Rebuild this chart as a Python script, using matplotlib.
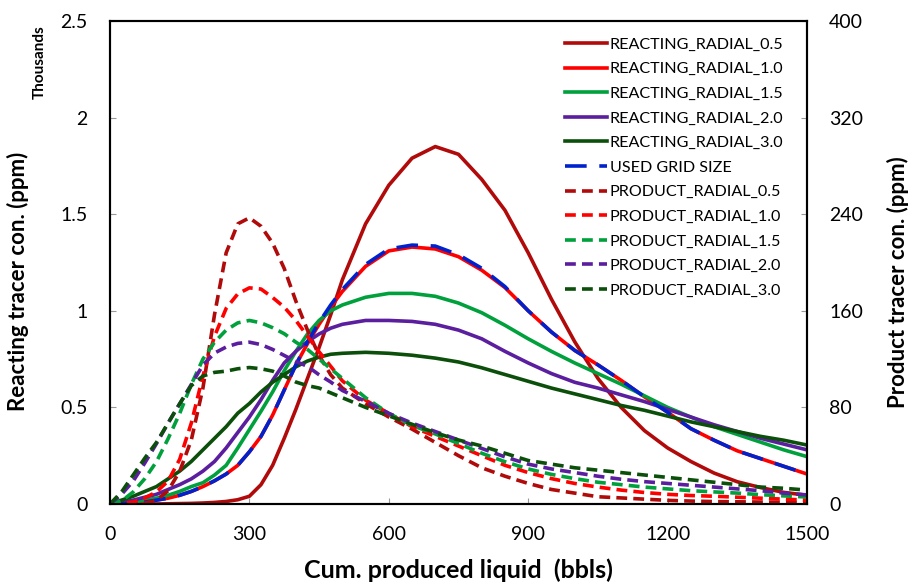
import matplotlib
matplotlib.use("Agg")
import matplotlib.pyplot as plt

plt.rcParams['font.family'] = ['Lato', 'DejaVu Sans']

# cumulative produced liquid (bbls)
cum_liquid = [0, 25, 50, 75, 100, 125, 150, 175, 200, 225, 250, 275, 300, 325, 350, 375, 400,
              425, 450, 475, 500, 550, 600, 650, 700, 750, 800, 850, 900, 950, 1000,
              1050, 1100, 1150, 1200, 1250, 1300, 1350, 1400, 1450, 1500]

# reacting tracer (thousands ppm, left axis)
reacting_05 = [0, 0, 0, 0, 0, 0.001, 0.002, 0.003, 0.005, 0.008, 0.013, 0.022, 0.04, 0.1, 0.2, 0.34, 0.49,
               0.65, 0.81, 0.98, 1.16, 1.45, 1.65, 1.79, 1.85, 1.81, 1.68, 1.52, 1.30, 1.06, 0.84,
               0.65, 0.50, 0.38, 0.29, 0.22, 0.16, 0.115, 0.085, 0.06, 0.045]
reacting_10 = [0, 0.001, 0.003, 0.01, 0.02, 0.03, 0.045, 0.065, 0.09, 0.12, 0.155, 0.2, 0.27, 0.35, 0.46, 0.59, 0.72,
               0.83, 0.93, 1.02, 1.10, 1.23, 1.31, 1.33, 1.32, 1.28, 1.21, 1.12, 1.00, 0.89, 0.795,
               0.72, 0.64, 0.555, 0.475, 0.39, 0.33, 0.275, 0.235, 0.195, 0.155]
reacting_15 = [0, 0.004, 0.01, 0.02, 0.03, 0.045, 0.065, 0.09, 0.11, 0.15, 0.2, 0.29, 0.385, 0.48, 0.58, 0.69, 0.79,
               0.88, 0.95, 1.00, 1.03, 1.07, 1.09, 1.09, 1.075, 1.04, 0.99, 0.925, 0.855, 0.79, 0.73,
               0.675, 0.62, 0.56, 0.5, 0.45, 0.40, 0.36, 0.32, 0.28, 0.245]
reacting_20 = [0, 0.008, 0.02, 0.035, 0.05, 0.075, 0.1, 0.13, 0.17, 0.22, 0.29, 0.37, 0.45, 0.54, 0.64, 0.73, 0.79,
               0.84, 0.88, 0.91, 0.93, 0.95, 0.95, 0.945, 0.93, 0.9, 0.855, 0.79, 0.73, 0.675, 0.63,
               0.6, 0.565, 0.53, 0.49, 0.45, 0.41, 0.375, 0.34, 0.31, 0.28]
reacting_30 = [0, 0.02, 0.04, 0.065, 0.09, 0.13, 0.17, 0.22, 0.28, 0.34, 0.40, 0.47, 0.52, 0.58, 0.63, 0.67, 0.71,
               0.74, 0.76, 0.775, 0.78, 0.785, 0.78, 0.77, 0.755, 0.735, 0.705, 0.67, 0.635, 0.6, 0.57,
               0.54, 0.51, 0.485, 0.455, 0.425, 0.40, 0.375, 0.35, 0.33, 0.305]
used_grid = [0, 0.001, 0.003, 0.01, 0.02, 0.03, 0.045, 0.065, 0.09, 0.12, 0.155, 0.2, 0.27, 0.35, 0.46, 0.59, 0.72,
             0.84, 0.94, 1.03, 1.11, 1.24, 1.32, 1.34, 1.335, 1.29, 1.22, 1.125, 1.00, 0.89, 0.795,
             0.72, 0.64, 0.555, 0.475, 0.39, 0.33, 0.275, 0.235, 0.195, 0.155]

# product tracer (ppm, right axis)
product_05 = [0, 0, 0, 0.8, 3, 11, 27, 53, 96, 157, 208, 232, 237, 230, 216, 195, 168,
              144, 123, 107, 96, 83, 72, 62, 51, 40, 30, 23, 17, 12, 9,
              6, 5, 4, 3, 2.4, 2, 1.8, 1.6, 1.4, 1.3]
product_10 = [0, 0.5, 1.6, 5, 10, 19, 37, 67, 106, 139, 162, 174, 179, 178, 171, 163, 152,
              139, 126, 114, 102, 86, 75, 64, 56, 48, 40, 32, 26, 21, 17,
              14, 11.5, 9.5, 8, 7, 6.4, 5.6, 4.8, 4, 3.2]
product_15 = [0, 2.4, 10, 21, 35, 54, 75, 99, 120, 134, 144, 150, 152, 150, 146, 141, 134,
              128, 120, 112, 104, 88, 75, 65, 58, 50, 42, 35, 29, 24.5, 21,
              18, 16, 14, 12.5, 11, 10, 9, 7.7, 6.7, 5.8]
product_20 = [0, 8, 19, 34, 50, 67, 83, 99, 115, 125, 130, 133, 134, 132, 128, 123, 118,
              114, 107, 101, 94, 85, 75, 67, 60, 53, 46, 39, 33, 29, 26,
              23, 20.5, 18.5, 17, 15.5, 14, 12.5, 11, 9, 7.5]
product_30 = [0, 10, 24, 38, 51, 67, 83, 98, 106, 109, 110, 112, 113, 112, 110, 106, 101,
              98, 96, 92, 88, 80, 73, 66, 59, 53, 48, 42, 36, 33, 30,
              28, 26, 24, 22, 20, 18, 16, 14, 13, 11.5]

radial_labels = ['0.5', '1.0', '1.5', '2.0', '3.0']
colors = ['#B00A0A', '#FF0000', '#00A03C', '#5A1E9E', '#0B4F0B']
reacting = [reacting_05, reacting_10, reacting_15, reacting_20, reacting_30]
product = [product_05, product_10, product_15, product_20, product_30]

fig = plt.figure(figsize=(9.12, 5.85), dpi=100)
ax = fig.add_axes([0.1206, 0.1385, 0.7643, 0.8256])
ax2 = ax.twinx()

lines = []
for lab, col, vals in zip(radial_labels, colors, reacting):
    l, = ax.plot(cum_liquid, vals, color=col, lw=2.6, label='REACTING_RADIAL_' + lab)
    lines.append(l)
l, = ax.plot(cum_liquid, used_grid, color='#0022CC', lw=2.6, dashes=(6, 3.5),
             label='USED GRID SIZE')
lines.append(l)
for lab, col, vals in zip(radial_labels, colors, product):
    l, = ax2.plot(cum_liquid, vals, color=col, lw=2.6, dashes=(3, 1.7),
                  label='PRODUCT_RADIAL_' + lab)
    lines.append(l)

ax.set_xlim(0, 1500)
ax.set_ylim(0, 2.5)
ax2.set_ylim(0, 400)
ax.set_xticks([0, 300, 600, 900, 1200, 1500])
ax.set_yticks([0, 0.5, 1, 1.5, 2, 2.5])
ax.set_yticklabels(['0', '0.5', '1', '1.5', '2', '2.5'])
ax2.set_yticks([0, 80, 160, 240, 320, 400])

for a in (ax, ax2):
    a.tick_params(direction='in', length=4, width=0.8, color='#999999', labelsize=14, pad=16)
    for s in a.spines.values():
        s.set_linewidth(1.5)
        s.set_color('black')
ax.tick_params(axis='x', pad=16)

ax.set_xlabel('Cum. produced liquid  (bbls)', fontsize=18, fontweight='bold')
ax.xaxis.set_label_coords(0.5, -0.112)
ax.set_ylabel('Reacting tracer con. (ppm)', fontsize=16, fontweight='bold')
ax.yaxis.set_label_coords(-0.116, 0.46)
ax2.set_ylabel('Product tracer con. (ppm)', fontsize=16, fontweight='bold')
ax2.yaxis.set_label_coords(1.115, 0.46)
fig.text(0.044, 0.893, 'Thousands', rotation=90, fontsize=11, fontweight='bold',
         ha='center', va='center')

ax.legend(handles=lines, loc='upper right', frameon=False, fontsize=11.6,
          handlelength=2.6, handletextpad=0.15, labelspacing=0.64,
          borderaxespad=0, borderpad=0, bbox_to_anchor=(0.966, 0.966))

fig.savefig('out.png', dpi=100)
